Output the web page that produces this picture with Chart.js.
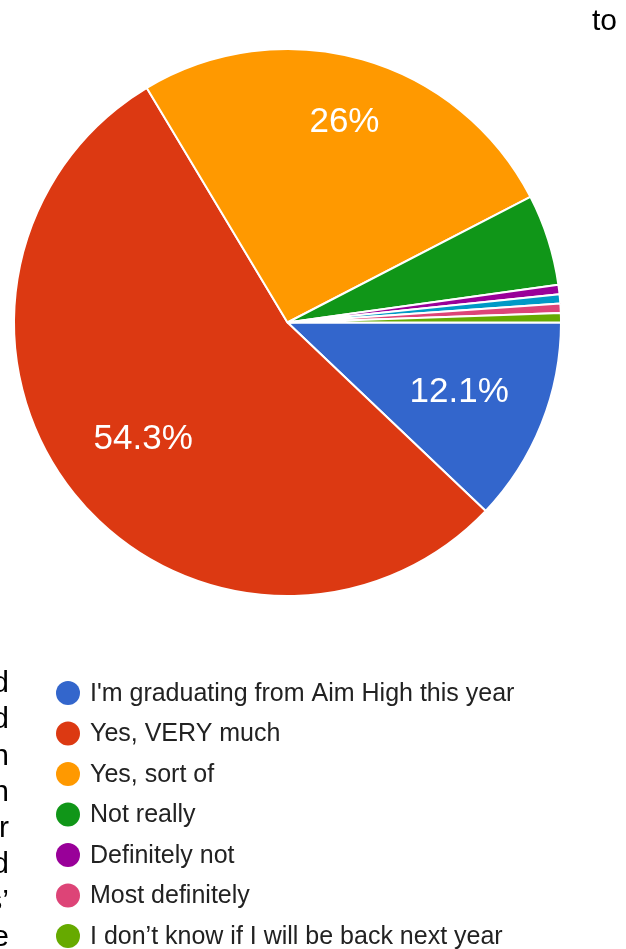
<!DOCTYPE html>
<html>
<head>
<meta charset="utf-8">
<script src="https://cdn.jsdelivr.net/npm/chart.js@4/dist/chart.umd.min.js"></script>
<style>
  html, body { margin: 0; padding: 0; background: #fff; overflow: hidden; }
  #wrap { position: relative; width: 626px; height: 949px; }
  canvas { position: absolute; left: 0; top: 0; }
  .flow { position: absolute; font-family: "Liberation Sans", Arial, sans-serif; color: #000; font-size: 30px; }
  #topWord { left: 592px; top: 2px; line-height: 36px; }
  #sideWords { right: 617px; top: 664px; width: 60px; text-align: right; line-height: 36.3px; white-space: pre; }
</style>
</head>
<body>
<div id="wrap">
  <canvas id="pie" width="626" height="949"></canvas>
  <div class="flow" id="topWord">to</div>
  <div class="flow" id="sideWords"></div>
</div>
<script>
// Survey answers, in the order the slices run clockwise from 3 o'clock
const answers = [
  "I'm graduating from Aim High this year",
  "Yes, VERY much",
  "Yes, sort of",
  "Not really",
  "Definitely not",
  "Other",
  "Most definitely",
  "I don\u2019t know if I will be back next year"
];
// Share of responses, percent
const shares = [12.1, 54.3, 26, 5.4, 0.55, 0.55, 0.55, 0.55];
const sliceColors = ["#3366cc", "#dc3912", "#ff9900", "#109618", "#990099", "#0099c6", "#dd4477", "#66aa00"];
// Entries listed under the pie
const legendEntries = [0, 1, 2, 3, 4, 6, 7];
// Line endings of the surrounding page text
const sideWords = ["d", "d", "n", "n", "r", "d", "s\u2019", "e"];

document.getElementById('sideWords').textContent = sideWords.join('\n');

const FONT = '"Liberation Sans", Arial, sans-serif';

// Percent labels inside the larger slices
const sliceLabels = {
  id: 'sliceLabels',
  afterDatasetsDraw(chart, args, opts) {
    const ctx = chart.ctx;
    const meta = chart.getDatasetMeta(0);
    ctx.save();
    ctx.fillStyle = '#fff';
    ctx.font = '35px ' + FONT;
    ctx.textAlign = 'center';
    ctx.textBaseline = 'middle';
    meta.data.forEach((arc, i) => {
      const v = chart.data.datasets[0].data[i];
      if (v < opts.minValue) return;
      const p = arc.getProps(['x', 'y', 'startAngle', 'endAngle', 'outerRadius'], true);
      const mid = (p.startAngle + p.endAngle) / 2;
      const f = (opts.radiusFraction[i] !== undefined) ? opts.radiusFraction[i] : opts.defaultFraction;
      const r = p.outerRadius * f;
      ctx.fillText(v + '%', p.x + Math.cos(mid) * r, p.y + Math.sin(mid) * r + 1);
    });
    ctx.restore();
  }
};

// Vertical legend with round markers below the pie
const listLegend = {
  id: 'listLegend',
  afterDraw(chart, args, opts) {
    const ctx = chart.ctx;
    const ds = chart.data.datasets[0];
    ctx.save();
    ctx.font = '25px ' + FONT;
    ctx.textBaseline = 'middle';
    ctx.textAlign = 'left';
    opts.entries.forEach((idx, row) => {
      const y = opts.top + row * opts.rowGap;
      ctx.beginPath();
      ctx.arc(opts.markerX, y, opts.markerRadius, 0, Math.PI * 2);
      ctx.fillStyle = ds.backgroundColor[idx];
      ctx.fill();
      ctx.fillStyle = '#222';
      ctx.fillText(chart.data.labels[idx], opts.textX, y + 1);
    });
    ctx.restore();
  }
};

new Chart(document.getElementById('pie'), {
  type: 'pie',
  data: {
    labels: answers,
    datasets: [{
      data: shares,
      backgroundColor: sliceColors,
      borderColor: '#fff',
      borderWidth: 2
    }]
  },
  options: {
    responsive: false,
    animation: false,
    rotation: 90,
    layout: { padding: { left: 13, top: 48, right: 64, bottom: 352 } },
    plugins: {
      legend: { display: false },
      tooltip: { enabled: false },
      sliceLabels: { minValue: 10, defaultFraction: 0.676, radiusFraction: { 2: 0.763 } },
      listLegend: { entries: legendEntries, top: 693, rowGap: 40.5, markerX: 68, markerRadius: 12, textX: 90 }
    }
  },
  plugins: [sliceLabels, listLegend]
});
</script>
</body>
</html>
